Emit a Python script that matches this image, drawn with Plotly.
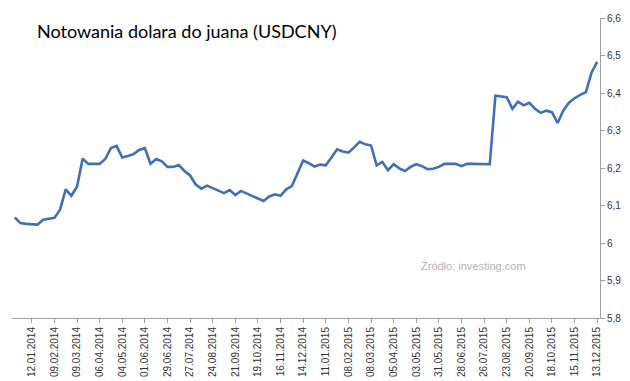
import pandas as pd
import plotly.graph_objects as go

# Weekly USDCNY quotes, first week 22.12.2013
start_date = "2013-12-22"
values = [
    6.068, 6.053, 6.051, 6.050, 6.049, 6.062, 6.065, 6.067, 6.089, 6.143,
    6.126, 6.150, 6.225, 6.211, 6.211, 6.211, 6.224, 6.253, 6.259, 6.228,
    6.232, 6.237, 6.248, 6.253, 6.211, 6.224, 6.218, 6.203, 6.203, 6.208,
    6.192, 6.180, 6.156, 6.145, 6.153, 6.146, 6.140, 6.133, 6.141, 6.128,
    6.139, 6.132, 6.124, 6.117, 6.112, 6.124, 6.130, 6.126, 6.143, 6.152,
    6.186, 6.220, 6.213, 6.204, 6.209, 6.207, 6.228, 6.250, 6.244, 6.241,
    6.255, 6.270, 6.263, 6.260, 6.207, 6.216, 6.194, 6.210, 6.199, 6.192,
    6.203, 6.210, 6.205, 6.197, 6.198, 6.203, 6.211, 6.211, 6.211, 6.205,
    6.211, 6.211, 6.211, 6.211, 6.210, 6.393, 6.390, 6.389, 6.358, 6.377,
    6.367, 6.374, 6.358, 6.347, 6.353, 6.349, 6.320, 6.353, 6.374, 6.386,
    6.395, 6.402, 6.454, 6.483,
]
dates = [d.strftime("%d.%m.%Y") for d in pd.date_range(start_date, periods=len(values), freq="7D")]

x_tick_labels = [
    "12.01.2014", "09.02.2014", "09.03.2014", "06.04.2014", "04.05.2014",
    "01.06.2014", "29.06.2014", "27.07.2014", "24.08.2014", "21.09.2014",
    "19.10.2014", "16.11.2014", "14.12.2014", "11.01.2015", "08.02.2015",
    "08.03.2015", "05.04.2015", "03.05.2015", "31.05.2015", "28.06.2015",
    "26.07.2015", "23.08.2015", "20.09.2015", "18.10.2015", "15.11.2015",
    "13.12.2015",
]
y_tick_vals = [5.8, 5.9, 6.0, 6.1, 6.2, 6.3, 6.4, 6.5, 6.6]
y_tick_text = ["5,8", "5,9", "6", "6,1", "6,2", "6,3", "6,4", "6,5", "6,6"]

title_text = "Notowania dolara do juana (USDCNY)"
source_text = "Źródło: investing.com"

# the page body adds an 8px offset; compensate in the layout
OFF = 8

fig = go.Figure()
fig.add_trace(go.Scatter(
    x=dates, y=values, mode="lines",
    line=dict(color="#3F6FB6", width=2.6),
    showlegend=False, hoverinfo="x+y",
))

fig.update_layout(
    width=630, height=381,
    margin=dict(l=12 - OFF, r=30 + OFF, t=13 - OFF, b=63 + OFF),
    paper_bgcolor="white", plot_bgcolor="white",
    title=dict(
        text=title_text,
        font=dict(family="Lato", size=18, color="#000000"),
        xref="container", yref="container",
        x=(37 - OFF) / 630, xanchor="left",
        y=1 - (32 - OFF) / 381, yanchor="middle",
    ),
    annotations=[dict(
        text=source_text, xref="paper", yref="paper",
        x=(473 - 12) / 588, y=(318 - 265) / 305,
        xanchor="center", yanchor="middle", showarrow=False,
        font=dict(family="Liberation Sans", size=11, color="#B4B4B4"),
    )],
)

fig.update_xaxes(
    type="category",
    range=[-0.5, len(values) - 0.5],
    tickmode="array", tickvals=x_tick_labels, ticktext=x_tick_labels,
    tickangle=-90,
    tickfont=dict(family="Liberation Sans", size=10, color="#333333"),
    showline=True, linecolor="#A0A0A0", linewidth=1,
    ticks="outside", ticklen=4, tickcolor="#A0A0A0",
    showgrid=False, zeroline=False,
)
fig.update_yaxes(
    side="right",
    range=[5.8, 6.6],
    tickmode="array", tickvals=y_tick_vals, ticktext=y_tick_text,
    tickfont=dict(family="Liberation Sans", size=10, color="#333333"),
    ticklabeloverflow="allow",
    showline=True, linecolor="#A0A0A0", linewidth=1,
    ticks="outside", ticklen=4, tickcolor="#A0A0A0",
    showgrid=False, zeroline=False,
)

fig.write_html("out.html")
